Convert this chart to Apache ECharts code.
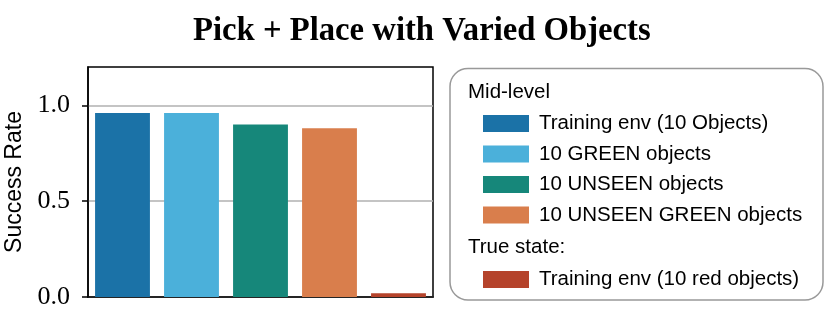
<!DOCTYPE html>
<html>
<head>
<meta charset="utf-8">
<script src="https://cdn.jsdelivr.net/npm/echarts@6/dist/echarts.min.js"></script>
<style>html,body{margin:0;padding:0;background:#fff;}#c{width:830px;height:310px;}</style>
</head>
<body>
<div id="c"></div>
<script>
const categories = ['Training env (10 Objects)', '10 GREEN objects', '10 UNSEEN objects', '10 UNSEEN GREEN objects', 'Training env (10 red objects)'];
const values = [0.96, 0.96, 0.90, 0.88, 0.02];
const colors = ['#1b72a7', '#4bb0da', '#16877a', '#d97e4c', '#b5432b'];
const yTicks = [0, 0.5, 1.0];
const groupMid = categories.slice(0, 4);
const groupTrue = categories.slice(4);

const chart = echarts.init(document.getElementById('c'), null, {renderer: 'canvas'});
const series = categories.map((name, i) => ({
  name: name,
  type: 'bar',
  stack: 'all',
  barWidth: '79.5%',
  itemStyle: {color: colors[i]},
  data: categories.map((c, j) => j === i ? values[i] : '-')
}));
const sans = '"Liberation Sans", Arial, sans-serif';
chart.setOption({
  animation: false,
  title: {
    text: 'Pick + Place with Varied Objects',
    left: 188, top: 10,
    textStyle: {fontFamily: '"Liberation Serif", "Times New Roman", serif', fontWeight: 'bold', fontSize: 32.7, color: '#000'}
  },
  grid: {left: 88, right: 397, top: 67, bottom: 13, show: true, borderColor: '#000', borderWidth: 1.5, containLabel: false},
  xAxis: {
    type: 'category', data: categories,
    axisLine: {lineStyle: {color: '#000', width: 1.5}},
    axisTick: {show: false}, axisLabel: {show: false}
  },
  yAxis: {
    type: 'value', min: 0, max: 1.2, interval: 0.5,
    name: 'Success Rate', nameLocation: 'middle', nameGap: 62,
    nameTextStyle: {fontFamily: sans, fontSize: 23, color: '#000'},
    axisLine: {show: true, lineStyle: {color: '#000', width: 1.5}},
    axisTick: {show: true, length: 6, lineStyle: {color: '#000', width: 1.5}, customValues: yTicks},
    axisLabel: {customValues: yTicks, formatter: v => v.toFixed(1), fontFamily: '"Liberation Serif", "Times New Roman", serif', fontSize: 26, color: '#000', margin: 18},
    splitLine: {lineStyle: {color: '#b0b0b0', width: 1.5}}
  },
  legend: [
    {
      data: groupMid, orient: 'vertical', left: 483, top: 113, padding: 0,
      itemWidth: 46, itemHeight: 17, itemGap: 9.5, icon: 'rect', selectedMode: false,
      textStyle: {fontFamily: sans, fontSize: 20.5, color: '#000', lineHeight: 21, padding: [0, 0, 0, 5]}
    },
    {
      data: groupTrue, orient: 'vertical', left: 483, top: 269, padding: 0,
      itemWidth: 46, itemHeight: 17, itemGap: 9.5, icon: 'rect', selectedMode: false,
      textStyle: {fontFamily: sans, fontSize: 20.5, color: '#000', lineHeight: 21, padding: [0, 0, 0, 5]}
    }
  ],
  graphic: [
    {type: 'rect', shape: {x: 450, y: 68.5, width: 373, height: 231.5, r: 18}, style: {fill: 'none', stroke: '#999', lineWidth: 1.5}, z: 0},
    {type: 'text', left: 468, top: 82, style: {text: 'Mid-level', font: '20.5px ' + sans, fill: '#000'}},
    {type: 'text', left: 468, top: 237, style: {text: 'True state:', font: '20.5px ' + sans, fill: '#000'}}
  ],
  series: series
});
</script>
</body>
</html>
